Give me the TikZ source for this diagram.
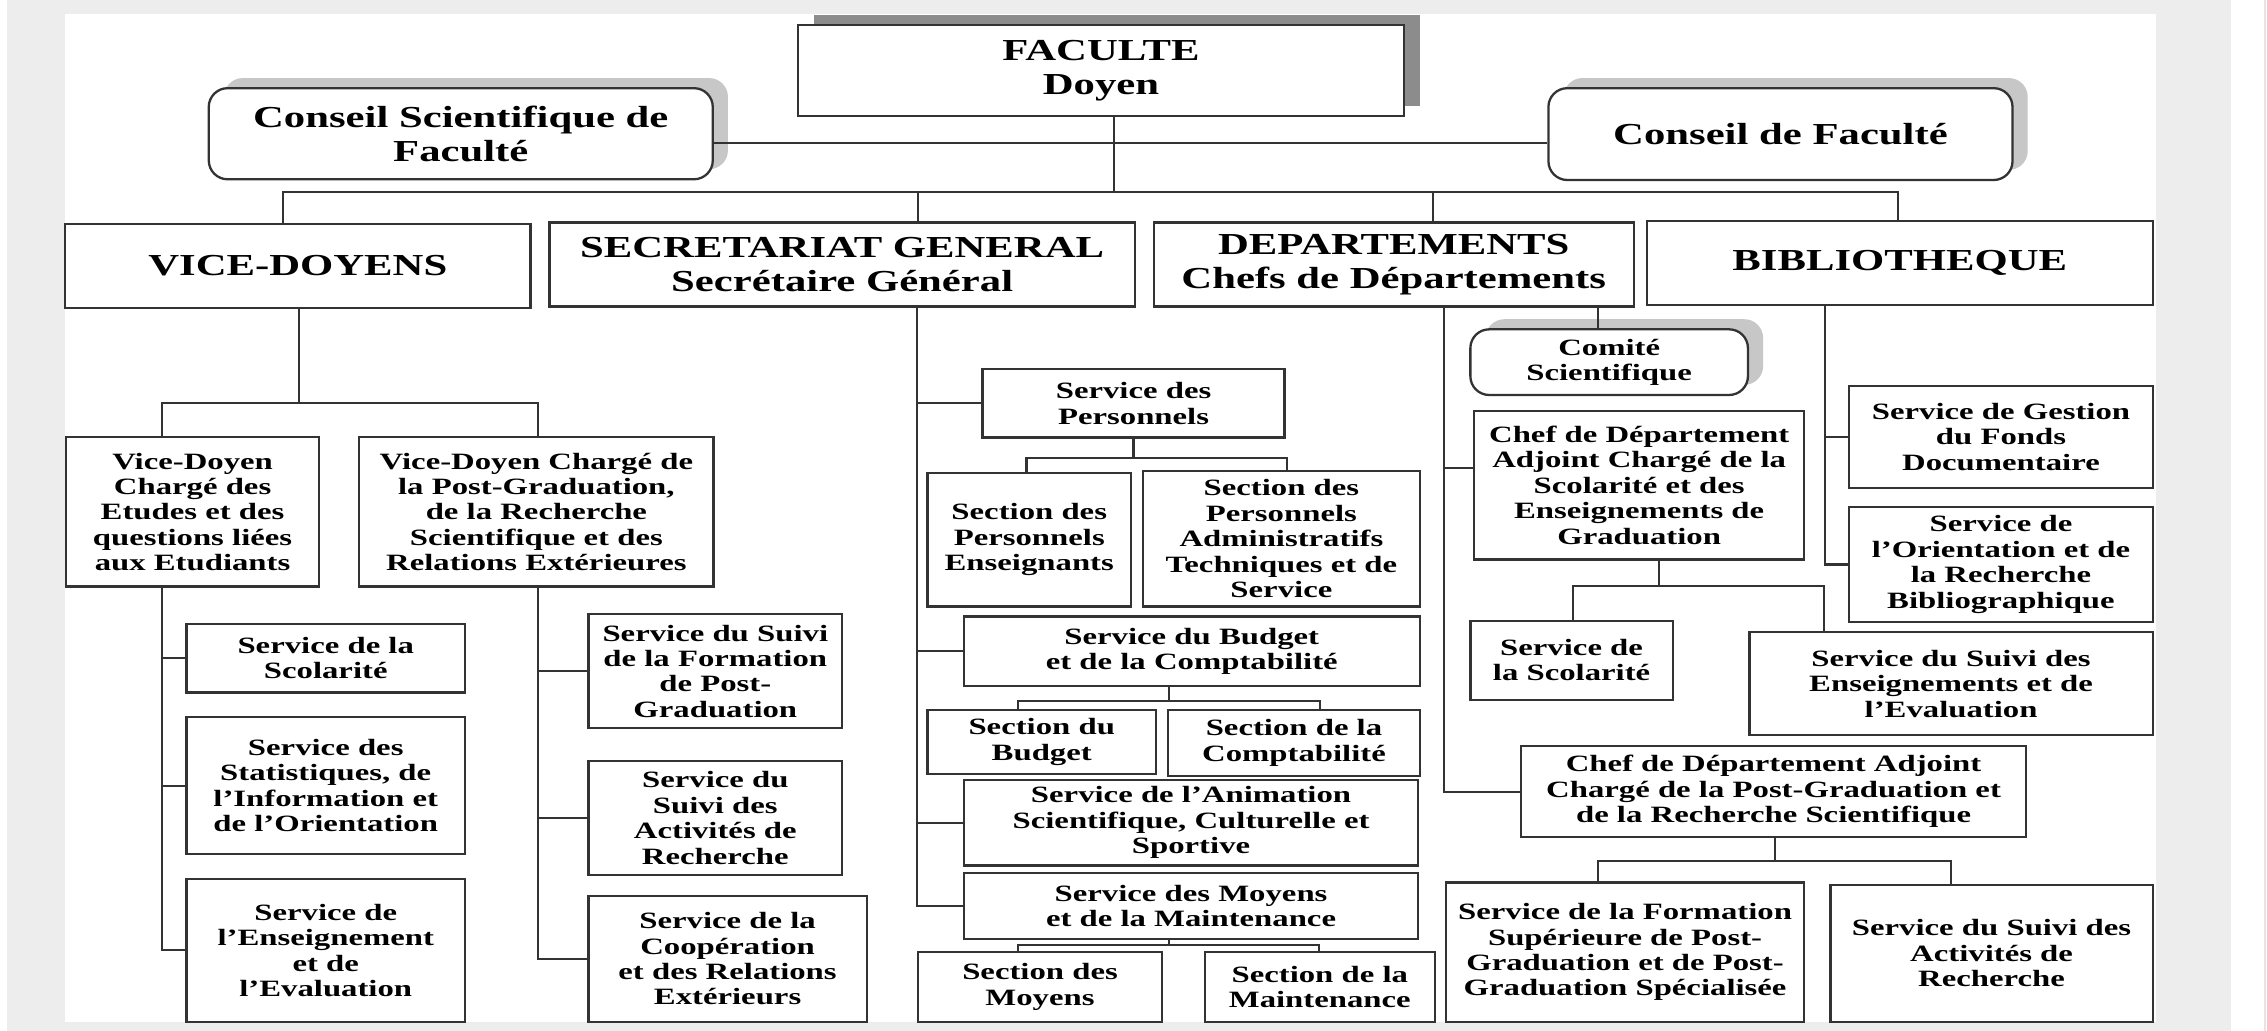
\documentclass[tikz,border=0pt]{standalone}
\usepackage{fontspec}
\setmainfont{Liberation Serif}[FakeStretch=1.4]
\usetikzlibrary{shadows}

\tikzset{
	cell/.style n args={4}{at={({(#1+#3)/2},{(#2+#4)/2})},
		minimum width={(#3-#1)*0.01cm}, minimum height={(#4-#2)*0.01cm}},
	box/.style={draw=black!80, line width=0.45pt, fill=white, inner sep=0pt, align=center,
		font=\bfseries\fontsize{4.6}{5}\selectfont},
	headbox/.style={box, font=\bfseries\fontsize{6}{6.7}\selectfont},
	roundbox/.style={box, rounded corners=1.3mm,
		drop shadow={shadow xshift=1.05mm, shadow yshift=0.7mm, fill=black!22, opacity=1}},
	wire/.style={draw=black!80, line width=0.4pt},
}

\begin{document}
\begin{tikzpicture}[x=0.01cm,y=-0.01cm]
	\useasboundingbox (0,0) rectangle (1568,713);
	% page background
	\fill[black!7] (5,0) rectangle (1543,713);
	\fill[white] (45,10) rectangle (1491,707);
	\draw[black!10, line width=0.3pt] (1566.5,0) -- (1566.5,713);

	% top level
	\node[headbox, cell={552}{17.3}{971}{80},
		drop shadow={shadow xshift=1.1mm, shadow yshift=0.7mm, fill=black!45, opacity=1}] (fac) {FACULTE\\Doyen};
	\node[roundbox, headbox, cell={144.4}{61}{493}{124}] (csf) {Conseil Scientifique de\\Faculté};
	\node[roundbox, headbox, cell={1071}{61}{1392}{124.5}] (cdf) {Conseil de Faculté};

	\node[headbox, cell={45}{155}{367}{213}] (vd) {VICE-DOYENS};
	\node[headbox, cell={380}{154}{785}{212}] (sg) {SECRETARIAT GENERAL\\Secrétaire Général};
	\node[headbox, cell={798}{154}{1130}{212}] (dep) {DEPARTEMENTS\\Chefs de Départements};
	\node[headbox, cell={1139}{153}{1489}{211}] (bib) {BIBLIOTHEQUE};

	\coordinate (cl) at (770.6,98.7);
	\coordinate (hub) at (770.6,132.6);
	\coordinate (busl) at (196,132.6);
	\coordinate (bsg) at (635,132.6);
	\coordinate (bdep) at (991,132.6);
	\coordinate (busr) at (1313,132.6);
	\draw[wire] (csf.east |- cl) -- (cdf.west |- cl);
	\draw[wire] (fac.south -| hub) -- (hub);
	\draw[wire] (busl |- vd.north) -- (busl) -- (busr) -- (busr |- bib.north);
	\draw[wire] (bsg) -- (bsg |- sg.north);
	\draw[wire] (bdep) -- (bdep |- dep.north);

	% vice-doyens
	\node[box, cell={45.6}{302.5}{220.8}{405.7}] (vd1) {Vice-Doyen\\Chargé des\\Etudes et des\\questions liées\\aux Etudiants};
	\node[box, cell={248.5}{302.5}{493.5}{405.7}] (vd2) {Vice-Doyen Chargé de\\la Post-Graduation,\\de la Recherche\\Scientifique et des\\Relations Extérieures};
	\node[box, cell={129}{431.6}{321.6}{479}] (sc1) {Service de la\\Scolarité};
	\node[box, cell={129}{496}{321.6}{590.9}] (st1) {Service des\\Statistiques, de\\l’Information et\\de l’Orientation};
	\node[box, cell={129}{608}{321.6}{706.7}] (en1) {Service de\\l’Enseignement\\et de\\l’Evaluation};
	\node[box, cell={407}{424.8}{582.5}{503.7}] (sf) {Service du Suivi\\de la Formation\\de Post-\\Graduation};
	\node[box, cell={407}{526.4}{582.5}{605}] (sa) {Service du\\Suivi des\\Activités de\\Recherche};
	\node[box, cell={407}{619.7}{599.5}{706.7}] (co) {Service de la\\Coopération\\et des Relations\\Extérieurs};

	\coordinate (vdhub) at (206.5,279);
	\coordinate (vdl) at (112,279);
	\coordinate (vdr) at (372.4,279);
	\draw[wire] (vd.south -| vdhub) -- (vdhub);
	\draw[wire] (vdl |- vd1.north) -- (vdl) -- (vdr) -- (vdr |- vd2.north);
	\draw[wire] (vdl |- vd1.south) -- (vdl |- en1.west) -- (en1.west);
	\draw[wire] (vdl |- sc1.west) -- (sc1.west);
	\draw[wire] (vdl |- st1.west) -- (st1.west);
	\draw[wire] (vdr |- vd2.south) -- (vdr |- co.west) -- (co.west);
	\draw[wire] (vdr |- sf.west) -- (sf.west);
	\draw[wire] (vdr |- sa.west) -- (sa.west);

	% secretariat general
	\node[box, cell={679.6}{255.4}{888.5}{302.7}] (sp) {Service des\\Personnels};
	\node[box, cell={641.5}{327}{782.3}{419.6}] (spe) {Section des\\Personnels\\Enseignants};
	\node[box, cell={790.6}{325.6}{982}{419.6}] (spa) {Section des\\Personnels\\Administratifs\\Techniques et de\\Service};
	\node[box, cell={666.6}{426.5}{982}{474.3}] (sb) {Service du Budget\\et de la Comptabilité};
	\node[box, cell={641.5}{491}{799.6}{535.3}] (sbu) {Section du\\Budget};
	\node[box, cell={808}{491}{982}{536.7}] (sco) {Section de la\\Comptabilité};
	\node[box, cell={666.6}{539.5}{981}{598.7}] (san) {Service de l’Animation\\Scientifique, Culturelle et\\Sportive};
	\node[box, cell={666.6}{604}{981}{649.5}] (smo) {Service des Moyens\\et de la Maintenance};
	\node[box, cell={635}{658.7}{803.7}{706.7}] (sdm) {Section des\\Moyens};
	\node[box, cell={833.4}{658.7}{992.3}{706.7}] (sma) {Section de la\\Maintenance};

	\coordinate (sgx) at (634,0);
	\draw[wire] (sg.south -| sgx) -- (sgx |- smo.west) -- (smo.west);
	\draw[wire] (sgx |- sp.west) -- (sp.west);
	\draw[wire] (sgx |- sb.west) -- (sb.west);
	\draw[wire] (sgx |- san.west) -- (san.west);
	\coordinate (sph) at (784,317);
	\coordinate (spl) at (710,317);
	\coordinate (spr) at (890,317);
	\draw[wire] (sp.south -| sph) -- (sph);
	\draw[wire] (spl |- spe.north) -- (spl) -- (spr) -- (spr |- spa.north);
	\coordinate (sbh) at (808.7,484.6);
	\coordinate (sbl) at (703.8,484.6);
	\coordinate (sbr) at (913,484.6);
	\draw[wire] (sb.south -| sbh) -- (sbh);
	\draw[wire] (sbl |- sbu.north) -- (sbl) -- (sbr) -- (sbr |- sco.north);
	\coordinate (smh) at (808.7,653.6);
	\coordinate (sml) at (703.8,653.6);
	\coordinate (smr) at (912.3,653.6);
	\draw[wire] (smo.south -| smh) -- (smh);
	\draw[wire] (sml |- sdm.north) -- (sml) -- (smr) -- (smr |- sma.north);

	% departements
	\node[roundbox, cell={1017}{227.8}{1209}{273.2}] (cs) {Comité\\Scientifique};
	\node[box, cell={1019.5}{284.3}{1248}{386.9}] (cda) {Chef de Département\\Adjoint Chargé de la\\Scolarité et des\\Enseignements de\\Graduation};
	\node[box, cell={1017}{429.3}{1157}{484}] (dsc) {Service de\\la Scolarité};
	\node[box, cell={1210}{437.3}{1489}{508.4}] (dse) {Service du Suivi des\\Enseignements et de\\l’Evaluation};
	\node[box, cell={1052}{516}{1401.4}{579}] (cdp) {Chef de Département Adjoint\\Chargé de la Post-Graduation et\\de la Recherche Scientifique};
	\node[box, cell={1000}{610.5}{1248}{706.7}] (dfs) {Service de la Formation\\Supérieure de Post-\\Graduation et de Post-\\Graduation Spécialisée};
	\node[box, cell={1266}{612}{1489}{706.7}] (dsa) {Service du Suivi des\\Activités de\\Recherche};

	\coordinate (dx) at (999,0);
	\coordinate (csx) at (1105,0);
	\coordinate (cdaj) at (999,324);
	\draw[wire] (dep.south -| dx) -- (dx |- cdp.west) -- (cdp.west);
	\draw[wire] (cdaj) -- (cdaj -| cda.west);
	\draw[wire] (dep.south -| csx) -- (csx |- cs.north);
	\coordinate (cdah) at (1147.6,405.3);
	\coordinate (cdal) at (1088,405.3);
	\coordinate (cdar) at (1261.6,405.3);
	\draw[wire] (cda.south -| cdah) -- (cdah);
	\draw[wire] (cdal |- dsc.north) -- (cdal) -- (cdar) -- (cdar |- dse.north);
	\coordinate (cdph) at (1227.7,595.3);
	\coordinate (cdpl) at (1105,595.3);
	\coordinate (cdpr) at (1349.5,595.3);
	\draw[wire] (cdp.south -| cdph) -- (cdph);
	\draw[wire] (cdpl |- dfs.north) -- (cdpl) -- (cdpr) -- (cdpr |- dsa.north);

	% bibliotheque
	\node[box, cell={1279}{266.8}{1489}{337.7}] (bgf) {Service de Gestion\\du Fonds\\Documentaire};
	\node[box, cell={1279}{350.9}{1489}{430}] (bor) {Service de\\l’Orientation et de\\la Recherche\\Bibliographique};

	\coordinate (bx) at (1262,0);
	\draw[wire] (bib.south -| bx) -- (bx |- bor.west) -- (bor.west);
	\draw[wire] (bx |- bgf.west) -- (bgf.west);
\end{tikzpicture}
\end{document}
